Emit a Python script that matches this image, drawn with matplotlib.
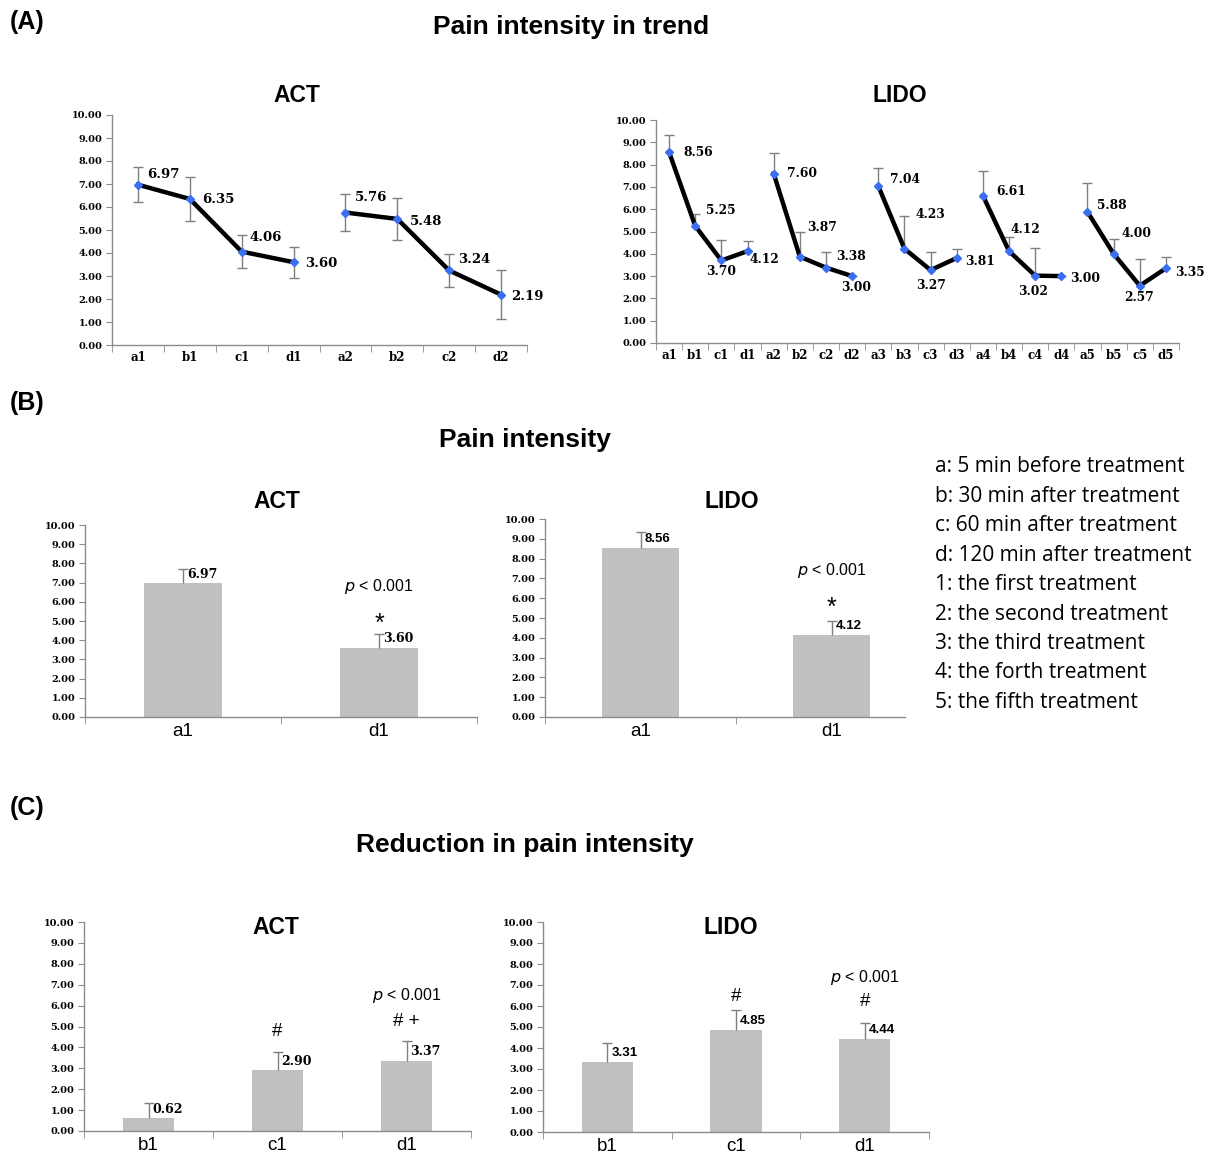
import matplotlib
matplotlib.use("Agg")
import matplotlib.pyplot as plt
import numpy as np

W, H = 1208, 1153

# ---------------- data ----------------
act_trend_labels = ["a1", "b1", "c1", "d1", "a2", "b2", "c2", "d2"]
act_trend_values = [6.97, 6.35, 4.06, 3.60, 5.76, 5.48, 3.24, 2.19]
act_trend_err = [0.75, 0.96, 0.73, 0.68, 0.82, 0.93, 0.70, 1.07]

lido_trend_labels = ["a1", "b1", "c1", "d1", "a2", "b2", "c2", "d2", "a3", "b3",
                     "c3", "d3", "a4", "b4", "c4", "d4", "a5", "b5", "c5", "d5"]
lido_trend_values = [8.56, 5.25, 3.70, 4.12, 7.60, 3.87, 3.38, 3.00, 7.04, 4.23,
                     3.27, 3.81, 6.61, 4.12, 3.02, 3.00, 5.88, 4.00, 2.57, 3.35]
lido_trend_err = [0.75, 0.52, 0.91, 0.44, 0.93, 1.10, 0.72, 0.0, 0.81, 1.48,
                  0.83, 0.42, 1.12, 0.62, 1.23, 0.0, 1.30, 0.65, 1.21, 0.49]

b_labels = ["a1", "d1"]
act_b_values = [6.97, 3.60]
act_b_err = [0.73, 0.70]
lido_b_values = [8.56, 4.12]
lido_b_err = [0.77, 0.75]

c_labels = ["b1", "c1", "d1"]
act_c_values = [0.62, 2.90, 3.37]
act_c_err = [0.72, 0.88, 0.92]
lido_c_values = [3.31, 4.85, 4.44]
lido_c_err = [0.93, 0.94, 0.75]

legend_lines = ["a: 5 min before treatment", "b: 30 min after treatment",
                "c: 60 min after treatment", "d: 120 min after treatment",
                "1: the first treatment", "2: the second treatment",
                "3: the third treatment", "4: the forth treatment",
                "5: the fifth treatment"]

# ---------------- style ----------------
SERIF = "DejaVu Serif"
SANS = "Liberation Sans"
BAR_C = "#c0c0c0"
ERR_C = "#7f7f7f"
SPINE_C = "#8c8c8c"
MARK_C = "#3a6ff2"
TITLE_SIZE = 19
SUB_SIZE = 16.5
PANEL_SIZE = 18

# label offsets (pixels) for the trend panels: (dx, dy, ha)
act_label_off = [(9, 10, "left"), (12, -1, "left"), (8, 14, "left"), (12, -1, "left"),
                 (9, 15, "left"), (13, -3, "left"), (9, 11, "left"), (10, -2, "left")]
lido_label_off = [(14, 0, "left"), (11, 15, "left"), (0, -11, "center"), (2, -8, "left"),
                  (13, 0, "left"), (7, 29, "left"), (10, 11, "left"), (4, -11, "center"),
                  (12, 7, "left"), (11, 34, "left"), (0, -15, "center"), (8, -3, "left"),
                  (13, 4, "left"), (1, 22, "left"), (-2, -16, "center"), (9, -2, "left"),
                  (10, 6, "left"), (8, 20, "left"), (-1, -12, "center"), (9, -4, "left")]

fig = plt.figure(figsize=(W / 100, H / 100), dpi=100)


def ax_px(l, t, r, b):
    return fig.add_axes([l / W, 1 - b / H, (r - l) / W, (b - t) / H])


def style_axes(ax, n, ytick_size=7, last_tick=True):
    ax.set_ylim(0, 10)
    ax.set_xlim(-0.5, n - 0.5)
    ax.set_yticks(np.arange(0, 11, 1))
    ax.set_yticklabels([f"{v:.2f}" for v in range(11)], fontfamily=SERIF,
                       fontweight="bold", fontsize=ytick_size)
    for s in ["top", "right"]:
        ax.spines[s].set_visible(False)
    for s in ["left", "bottom"]:
        ax.spines[s].set_color(SPINE_C)
        ax.spines[s].set_linewidth(1.0)
    ax.tick_params(axis="y", length=4, color=SPINE_C, pad=3)
    ax.set_xticks(np.arange(n))
    ax.tick_params(axis="x", length=0, pad=4)
    minor = np.arange(n + 1) - 0.5
    if not last_tick:
        minor = minor[:-1]
    ax.set_xticks(minor, minor=True)
    ax.tick_params(axis="x", which="minor", length=5, color=SPINE_C)
    ax.patch.set_alpha(0)


def upper_err(ax, xx, vals, errs, zorder=3):
    n = len(vals)
    eb = ax.errorbar(xx, vals, yerr=[np.zeros(n), errs], fmt="none", ecolor=ERR_C,
                     elinewidth=1.0, capsize=3.5, capthick=1.0, zorder=zorder)
    caps = eb[1]
    if len(caps) == 2:
        caps[0].set_visible(False)
    return eb


# ---------------- Panel A ----------------
fig.text(10 / W, 1 - 22 / H, "(A)", fontfamily=SANS, fontweight="bold",
         fontsize=PANEL_SIZE, va="center")
fig.text(571 / W, 1 - 27 / H, "Pain intensity in trend", fontfamily=SANS, fontweight="bold",
         fontsize=TITLE_SIZE, ha="center", va="center")

# ACT trend
ax = ax_px(112, 115, 527, 345)
style_axes(ax, len(act_trend_labels))
ax.set_xticklabels(act_trend_labels, fontfamily=SERIF, fontweight="bold", fontsize=8.5)
x = np.arange(len(act_trend_values))
ax.errorbar(x, act_trend_values, yerr=act_trend_err, fmt="none", ecolor=ERR_C,
            elinewidth=1.0, capsize=3.5, capthick=1.0, zorder=2)
for seg in (slice(0, 4), slice(4, 8)):
    ax.plot(x[seg], act_trend_values[seg], color="black", lw=3.2, zorder=3)
ax.plot(x, act_trend_values, ls="none", marker="D", ms=4.5, color=MARK_C, zorder=4)
for xi, v, (dx, dy, ha) in zip(x, act_trend_values, act_label_off):
    ax.annotate(f"{v:.2f}", (xi, v), xytext=(dx, dy), textcoords="offset pixels",
                fontfamily=SERIF, fontweight="bold", fontsize=9.5, va="center", ha=ha)
fig.text(297 / W, 1 - 96 / H, "ACT", fontfamily=SANS, fontweight="bold", fontsize=SUB_SIZE,
         ha="center", va="center")

# LIDO trend
ax = ax_px(656, 120, 1179, 343)
style_axes(ax, len(lido_trend_labels))
ax.set_xticklabels(lido_trend_labels, fontfamily=SERIF, fontweight="bold", fontsize=8.5)
x = np.arange(len(lido_trend_values))
upper_err(ax, x, lido_trend_values, lido_trend_err, zorder=2)
for k in range(5):
    seg = slice(4 * k, 4 * k + 4)
    ax.plot(x[seg], lido_trend_values[seg], color="black", lw=3.2, zorder=3)
ax.plot(x, lido_trend_values, ls="none", marker="D", ms=4.5, color=MARK_C, zorder=4)
for xi, v, (dx, dy, ha) in zip(x, lido_trend_values, lido_label_off):
    ax.annotate(f"{v:.2f}", (xi, v), xytext=(dx, dy), textcoords="offset pixels",
                fontfamily=SERIF, fontweight="bold", fontsize=8.8, va="center", ha=ha)
fig.text(900 / W, 1 - 96 / H, "LIDO", fontfamily=SANS, fontweight="bold", fontsize=SUB_SIZE,
         ha="center", va="center")

# ---------------- Panel B ----------------
fig.text(10 / W, 1 - 403 / H, "(B)", fontfamily=SANS, fontweight="bold",
         fontsize=PANEL_SIZE, va="center")
fig.text(525 / W, 1 - 440 / H, "Pain intensity", fontfamily=SANS, fontweight="bold",
         fontsize=TITLE_SIZE, ha="center", va="center")


def bar_panel(rect, labels, values, errs, label_font, label_size, title, title_xy,
              last_tick=True):
    ax = ax_px(*rect)
    n = len(labels)
    style_axes(ax, n, last_tick=last_tick)
    ax.set_xticklabels(labels, fontfamily=SANS, fontsize=13.5)
    xx = np.arange(n)
    ax.bar(xx, values, width=0.4, color=BAR_C, zorder=2)
    upper_err(ax, xx, values, errs)
    for xi, v in zip(xx, values):
        ax.annotate(f"{v:.2f}", (xi, v), xytext=(4, 9), textcoords="offset pixels",
                    fontfamily=label_font, fontweight="bold", fontsize=label_size,
                    va="center", ha="left", zorder=4)
    fig.text(title_xy[0] / W, 1 - title_xy[1] / H, title, fontfamily=SANS,
             fontweight="bold", fontsize=SUB_SIZE, ha="center", va="center")
    return ax


axb1 = bar_panel((85, 525, 477, 717), b_labels, act_b_values, act_b_err, SERIF, 9,
                 "ACT", (277, 502))
axb1.text(1, 6.8, r"$\it{p}$ < 0.001", fontfamily=SANS, fontsize=11.5, ha="center", va="center")
axb1.text(1, 4.85, "*", fontfamily=SANS, fontsize=18, ha="center", va="center")

axb2 = bar_panel((545, 519, 927, 717), b_labels, lido_b_values, lido_b_err, SANS, 9.5,
                 "LIDO", (732, 502), last_tick=False)
axb2.spines["bottom"].set_bounds(-0.5, 1.385)
axb2.text(1, 7.4, r"$\it{p}$ < 0.001", fontfamily=SANS, fontsize=11.5, ha="center", va="center")
axb2.text(1, 5.5, "*", fontfamily=SANS, fontsize=18, ha="center", va="center")

for i, line in enumerate(legend_lines):
    fig.text(935 / W, 1 - (467 + 29.4 * i) / H, line, fontfamily="Open Sans",
             fontsize=15, ha="left", va="center")

# ---------------- Panel C ----------------
fig.text(10 / W, 1 - 808 / H, "(C)", fontfamily=SANS, fontweight="bold",
         fontsize=PANEL_SIZE, va="center")
fig.text(525 / W, 1 - 845 / H, "Reduction in pain intensity", fontfamily=SANS,
         fontweight="bold", fontsize=TITLE_SIZE, ha="center", va="center")

axc1 = bar_panel((84, 922, 471, 1131), c_labels, act_c_values, act_c_err, SERIF, 9,
                 "ACT", (276, 928))
axc1.text(2, 6.5, r"$\it{p}$ < 0.001", fontfamily=SANS, fontsize=11.5, ha="center", va="center")
axc1.text(2, 5.25, "# +", fontfamily=SANS, fontsize=13.5, ha="center", va="center")
axc1.text(1, 4.75, "#", fontfamily=SANS, fontsize=13.5, ha="center", va="center")

axc2 = bar_panel((543, 922, 929, 1132), c_labels, lido_c_values, lido_c_err, SANS, 9.5,
                 "LIDO", (731, 928))
axc2.text(2, 7.35, r"$\it{p}$ < 0.001", fontfamily=SANS, fontsize=11.5, ha="center", va="center")
axc2.text(2, 6.2, "#", fontfamily=SANS, fontsize=13.5, ha="center", va="center")
axc2.text(1, 6.45, "#", fontfamily=SANS, fontsize=13.5, ha="center", va="center")

fig.savefig("out.png", dpi=100)
